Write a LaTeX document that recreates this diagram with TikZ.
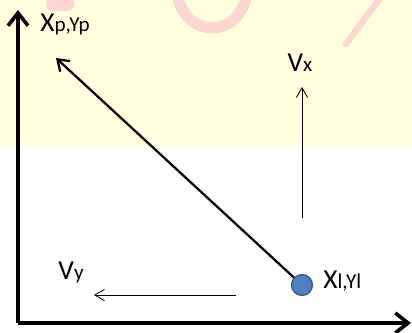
\documentclass[tikz,border=0pt]{standalone}
\usepackage{fontspec}
\setmainfont{Carlito}
\usepackage{tikz}
\usetikzlibrary{arrows.meta, positioning}
\definecolor{jauneFond}{RGB}{255, 255, 221}
\definecolor{roseTache}{RGB}{255, 214, 210}
\definecolor{bleuPoint}{RGB}{79, 129, 189}
\definecolor{bleuBord}{RGB}{56, 93, 138}
\newcommand{\petit}{\fontsize{15}{18}\selectfont}

\begin{document}
\begin{tikzpicture}[x=0.25mm, y=-0.25mm,
  axe/.style={line width=0.9mm,
    -{Straight Barb[length=3.2mm, width=5mm]}},
  vec/.style={line width=1.6pt,
    -{Straight Barb[length=2.6mm, width=3.6mm]}},
  vit/.style={line width=0.6pt,
    -{Straight Barb[length=2.4mm, width=2.8mm]}},
  pt/.style={circle, draw=bleuBord, fill=bleuPoint, line width=1pt,
    minimum size=5.2mm, inner sep=0pt},
  lbl/.style={font=\fontsize{19.5}{22}\selectfont, inner sep=0pt},
  tache/.style={draw=roseTache, line cap=round},
]
\useasboundingbox (0,0) rectangle (412,332);
\fill[jauneFond] (0,0) rectangle (412,147);
\fill[roseTache, rounded corners=4pt] (46,-4) rectangle (74,11);
\draw[tache, line width=2.8mm]
  (178,-2) .. controls (188,38) and (236,38) .. (246,-2);
\draw[tache, line width=1.6mm] (346,44) -- (380,-2);

\coordinate (orig) at (18,323);
\coordinate (haut) at (18,10);
\coordinate (droite) at (411,323);
\node[pt] (pl) at (302,285) {};
\coordinate (pp) at (56,58);
\coordinate (vxA) at (302,218);
\coordinate (vxB) at (302,87);
\coordinate (vyA) at (236,295);
\coordinate (vyB) at (94,295);

\node[lbl, anchor=base west] (lblP)  at (40,32)  {X{\petit p,Yp}};
\node[lbl, anchor=base]      (lblVx) at (300,71) {V{\petit x}};
\node[lbl, anchor=base]      (lblVy) at (71,279) {V{\petit y}};
\node[lbl, anchor=base west] (lblL)  at (323,288) {X{\petit l,Yl}};

\draw[axe] (orig) -- (haut);
\draw[axe] (orig) -- (droite);
\draw[vec] (pl) -- (pp);
\draw[vit] (vxA) -- (vxB);
\draw[vit] (vyA) -- (vyB);
\end{tikzpicture}
\end{document}
